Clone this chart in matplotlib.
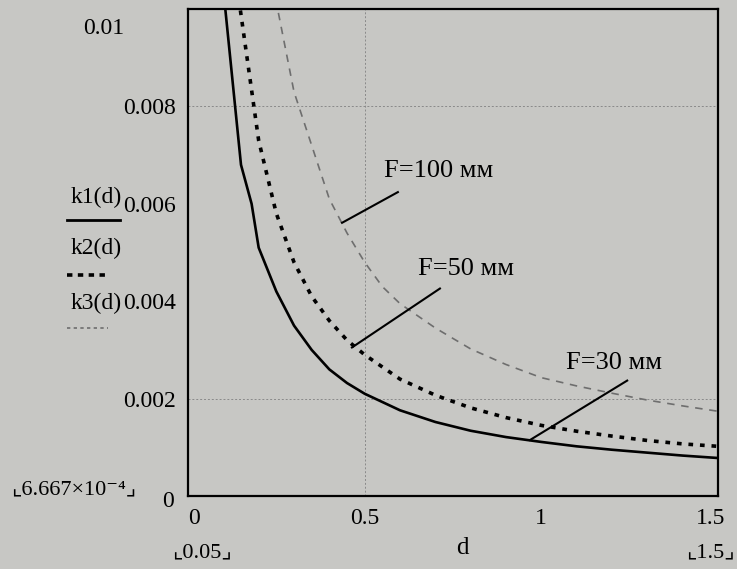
import matplotlib
matplotlib.use("Agg")
import matplotlib.pyplot as plt
from matplotlib.lines import Line2D

# values
d1 = [0.10, 0.15, 0.18, 0.20, 0.25, 0.30, 0.35, 0.40, 0.45, 0.50, 0.60, 0.70, 0.80, 0.90,
      1.00, 1.10, 1.20, 1.30, 1.40, 1.50]
k1 = [0.0104, 0.0068, 0.0060, 0.0051, 0.0042, 0.0035, 0.0030, 0.0026, 0.00232, 0.0021,
      0.00176, 0.00152, 0.00134, 0.00121, 0.00111, 0.00102, 0.00095, 0.00089, 0.00083, 0.00078]

d2 = [0.14, 0.20, 0.25, 0.30, 0.35, 0.40, 0.45, 0.50, 0.60, 0.70, 0.80, 0.90, 1.00, 1.10,
      1.20, 1.30, 1.40, 1.50]
k2 = [0.0104, 0.0073, 0.0058, 0.0048, 0.0041, 0.0036, 0.0032, 0.0029, 0.0024, 0.00207,
      0.00181, 0.00161, 0.00145, 0.00133, 0.00123, 0.00114, 0.00107, 0.00102]

d3 = [0.24, 0.30, 0.35, 0.40, 0.45, 0.50, 0.55, 0.60, 0.70, 0.80, 0.90, 1.00, 1.10, 1.20,
      1.30, 1.40, 1.50]
k3 = [0.0105, 0.0083, 0.0072, 0.0061, 0.0054, 0.0048, 0.0043, 0.00395, 0.00345, 0.00302,
      0.0027, 0.00243, 0.00226, 0.00211, 0.00197, 0.00185, 0.00174]

yticks = [0.002, 0.004, 0.006, 0.008]
ytick_labels = ["0.002", "0.004", "0.006", "0.008"]
xticks = [0.5, 1.0]
xtick_labels = ["0.5", "1"]

labels = ["F=100 мм", "F=50 мм", "F=30 мм"]
# (text pos, leader start, leader end) in data units
label_pos = [(0.71, 0.00667), (0.787, 0.00466), (1.206, 0.00274)]
leaders = [((0.436, 0.00561), (0.594, 0.00624)),
           ((0.464, 0.00305), (0.713, 0.00426)),
           ((0.968, 0.00115), (1.243, 0.00237))]

paper = "#c7c7c4"
serif = ["Liberation Serif", "DejaVu Serif", "DejaVu Sans"]
plt.rcParams["font.family"] = serif

W, H = 737, 569
fig = plt.figure(figsize=(W / 100, H / 100), dpi=100, facecolor=paper)
ax = fig.add_axes([188 / W, 1 - 496 / H, (718 - 188) / W, (496 - 9) / H])
ax.set_facecolor(paper)

ax.plot(d1, k1, color="black", lw=1.9)
ax.plot(d2, k2, color="black", lw=2.6, linestyle=(0, (1.3, 1.9)))
ax.plot(d3, k3, color="#6e6e6e", lw=1.2, linestyle=(0, (4.5, 4)))

ax.set_xlim(0, 1.5)
ax.set_ylim(0, 0.01)

# Mathcad markers
for y in [0.002, 0.008]:
    ax.axhline(y, color="#8a8a8a", lw=0.7, linestyle=(0, (2, 2)), zorder=0)
ax.axvline(0.5, color="#8a8a8a", lw=0.7, linestyle=(0, (2, 2)), zorder=0)

for s in ax.spines.values():
    s.set_linewidth(1.6)
    s.set_color("black")

fs = 17
ax.tick_params(length=0, labelsize=fs, pad=9)
ax.set_yticks(yticks, ytick_labels)
ax.set_xticks(xticks, xtick_labels)

# limit labels that Mathcad places at the ends
ax.annotate("0.01", xy=(0, 0.01), xycoords=("axes fraction", "data"), xytext=(-46, -14),
            textcoords="offset points", ha="right", va="center", fontsize=fs)
ax.annotate("0", xy=(0, 0), xycoords=("axes fraction", "data"), xytext=(-10, -4),
            textcoords="offset points", ha="right", va="center", fontsize=fs)
ax.annotate("0", xy=(0, 0), xycoords=("data", "axes fraction"), xytext=(0, -16),
            textcoords="offset points", ha="left", va="center", fontsize=fs)
ax.annotate("1.5", xy=(1.5, 0), xycoords=("data", "axes fraction"), xytext=(-5, -16),
            textcoords="offset points", ha="center", va="center", fontsize=fs)

for txt, (tx, ty), (p0, p1) in zip(labels, label_pos, leaders):
    ax.text(tx, ty, txt, ha="center", va="center", fontsize=19)
    ax.plot([p0[0], p1[0]], [p0[1], p1[1]], color="black", lw=1.5)

# axis title and range labels
fig.text(462 / W, 1 - 548 / H, "d", ha="center", va="center", fontsize=18)
fig.text(202 / W, 1 - 553 / H, "⌞0.05⌟", ha="center", va="center", fontsize=16, family=serif)
fig.text(735 / W, 1 - 553 / H, "⌞1.5⌟", ha="right", va="center", fontsize=16, family=serif)
fig.text(74 / W, 1 - 490 / H, "⌞6.667×10⁻⁴⌟", ha="center", va="center", fontsize=16, family=serif)

# legend drawn like Mathcad: name above a line sample
legend = [("k1(d)", 197, 220, dict(color="black", lw=2.0)),
          ("k2(d)", 248, 275, dict(color="black", lw=2.6, linestyle=(0, (1.5, 1.5)))),
          ("k3(d)", 303, 328, dict(color="#6e6e6e", lw=1.2, linestyle=(0, (2, 2))))]
for name, ty, ly, style in legend:
    fig.text(71 / W, 1 - ty / H, name, ha="left", va="center", fontsize=fs)
    x1 = 120 if name == "k1(d)" else 108
    fig.add_artist(Line2D([67 / W, x1 / W], [1 - ly / H, 1 - ly / H],
                          transform=fig.transFigure, **style))

fig.savefig("out.png", dpi=100, facecolor=paper)
